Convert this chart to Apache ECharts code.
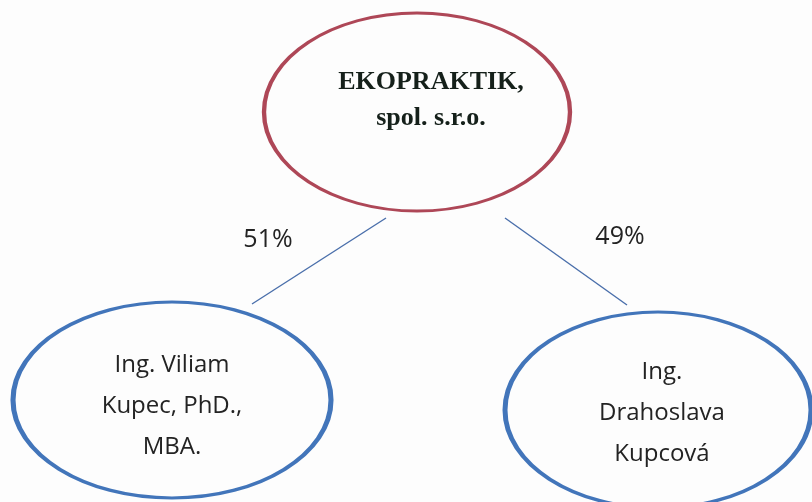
<!DOCTYPE html>
<html>
<head>
<meta charset="utf-8">
<title>EKOPRAKTIK - vlastnícka štruktúra</title>
<script src="https://cdn.jsdelivr.net/npm/echarts@6/dist/echarts.min.js"></script>
<style>
    html, body { margin: 0; padding: 0; background: #fdfdfd; }
    #canvas { width: 812px; height: 502px; }
</style>
</head>
<body>
<div id="canvas"></div>
<script>
/**-----------------------------------------------------------------------------
 * Data
 *---------------------------------------------------------------------------*/
let companyName = ['EKOPRAKTIK,', 'spol. s.r.o.'];
let owners = [
    ['Ing. Viliam', 'Kupec, PhD.,', 'MBA.'],
    ['Ing.', 'Drahoslava', 'Kupcová']
];
let shares = [51, 49];

/**-----------------------------------------------------------------------------
 * Layout (page pixels)
 *---------------------------------------------------------------------------*/
let companyBox = { center: [417, 112], size: [306, 198], textShift: [14, -12] };
let ownerBoxes = [
    { center: [172, 400], size: [318, 196], textShift: [0, 6] },
    { center: [658, 410], size: [306, 196], textShift: [4, 3] }
];
let edgeEnds = [
    [[386, 218], [252, 304]],
    [[505, 218], [627, 305]]
];
let shareLabelPos = [[268, 240], [620, 237]];

// unit circle drawn with beziers so it stretches into an ellipse
const ELLIPSE = 'path://M0,-1C0.552,-1 1,-0.552 1,0C1,0.552 0.552,1 0,1' +
    'C-0.552,1 -1,0.552 -1,0C-1,-0.552 -0.552,-1 0,-1Z';

let chart = echarts.init(document.getElementById('canvas'));

function nodePoint(box, lines, color, rich, width) {
    return {
        value: box.center,
        symbolSize: box.size,
        itemStyle: { color: '#fdfdfd', borderColor: color, borderWidth: width, opacity: 1 },
        label: {
            show: true,
            position: 'inside',
            offset: box.textShift,
            formatter: lines.map(l => '{' + rich + '|' + l + '}').join('\n')
        }
    };
}

let nodeData = [nodePoint(companyBox, companyName, '#ae4757', 'co', 3.5)];
owners.forEach((o, i) => nodeData.push(nodePoint(ownerBoxes[i], o, '#4275ba', 'pe', 4)));

let option = {
    animation: false,
    backgroundColor: '#fdfdfd',
    grid: { left: 0, right: 0, top: 0, bottom: 0 },
    xAxis: { type: 'value', min: 0, max: 812, show: false },
    yAxis: { type: 'value', min: 0, max: 502, inverse: true, show: false },
    series: [
        {
            type: 'lines',
            coordinateSystem: 'cartesian2d',
            z: 1,
            lineStyle: { color: '#4a6fab', width: 1.4, opacity: 1 },
            data: edgeEnds.map(e => ({ coords: e }))
        },
        {
            type: 'scatter',
            z: 2,
            symbol: ELLIPSE,
            silent: true,
            data: nodeData,
            label: {
                opacity: 1,
                rich: {
                    co: {
                        fontFamily: 'Liberation Serif', fontWeight: 'bold',
                        fontSize: 26, color: '#15201a', lineHeight: 36
                    },
                    pe: {
                        fontFamily: 'Open Sans', fontSize: 24, color: '#232323', lineHeight: 41
                    }
                }
            }
        },
        {
            type: 'scatter',
            z: 3,
            symbolSize: 0,
            silent: true,
            itemStyle: { opacity: 1 },
            data: shares.map((s, i) => ({ value: shareLabelPos[i], name: s + '%' })),
            label: {
                show: true,
                opacity: 1,
                position: 'inside',
                formatter: '{b}',
                fontFamily: 'Open Sans',
                fontSize: 25,
                color: '#232323'
            }
        }
    ]
};

chart.setOption(option);
</script>
</body>
</html>
